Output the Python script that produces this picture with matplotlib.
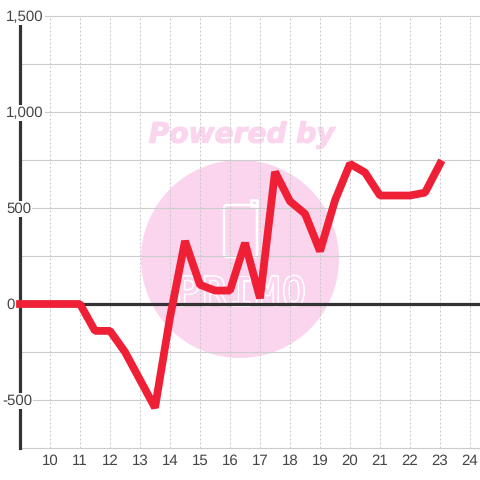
import matplotlib
matplotlib.use('Agg')
import matplotlib.pyplot as plt
import matplotlib.patheffects as pe
from matplotlib.patches import Circle, FancyBboxPatch, Rectangle

hours = [9, 9.5, 10, 10.5, 11, 11.5, 12, 12.5, 13, 13.5, 14, 14.5, 15, 15.5, 16, 16.5,
         17, 17.5, 18, 18.5, 19, 19.5, 20, 20.5, 21, 21.5, 22, 22.5, 23]
values = [0, 0, 0, 0, 0, -140, -140, -250, -395, -540, -70, 328, 100, 70, 70, 318,
          30, 688, 535, 470, 275, 540, 730, 685, 565, 565, 565, 580, 730]
x_ticks = list(range(10, 25))
y_major = [-500, 0, 500, 1000, 1500]
y_labels = ['-500', '0', '500', '1,000', '1,500']
y_minor = [-750, -250, 250, 750, 1250]
logo_letters = ['P', 'R', 'I', 'M', 'O']

plt.rcParams['font.family'] = ['Liberation Sans', 'DejaVu Sans']
plt.rcParams['text.hinting'] = 'no_hinting'
plt.rcParams['text.hinting_factor'] = 1
W = 480
fig = plt.figure(figsize=(4.8, 4.8), dpi=100)
ax = fig.add_axes([20/W, 32/W, 460/W, 432/W])
ax.set_xlim(9, 24.333)
ax.set_ylim(-750, 1500)
ax.patch.set_alpha(0)
pink = '#fbd5ee'


def fx(p):
    return p / W


def fy(p):
    return 1 - p / W


# watermark behind the axes
fig.add_artist(Circle((fx(240), fy(259)), 99 / W, transform=fig.transFigure, fc=pink, ec='none', zorder=-5))
fig.text(fx(241.5), fy(135), 'Powered by', family='DejaVu Sans', fontsize=20.2, fontweight='bold',
         fontstyle='italic', color=pink, ha='center', va='center', zorder=-5,
         path_effects=[pe.withStroke(linewidth=0.8, foreground=pink)])
fig.add_artist(FancyBboxPatch((fx(224), fy(257)), 33 / W, 52 / W, boxstyle='round,pad=0,rounding_size=0.006',
                              transform=fig.transFigure, fc='none', ec='white', lw=1.8, zorder=-4))
fig.add_artist(Rectangle((fx(251), fy(206)), 6 / W, 6 / W, transform=fig.transFigure, fc='none', ec='white',
                         lw=1.8, zorder=-4))
for i, letter in enumerate(logo_letters):
    fig.text(fx(188 + i * 26.5), fy(305), letter, family='DejaVu Sans Mono', fontsize=28, color=pink,
             ha='center', va='baseline', zorder=-4,
             path_effects=[pe.withStroke(linewidth=2.2, foreground='white')])

for v in y_major + y_minor:
    if v != 0:
        ax.axhline(v, color='#cccccc', lw=0.8, zorder=1, clip_on=False)
for x in x_ticks:
    ax.axvline(x, color='#c8c8c8', lw=0.72, ls=(0, (2, 2)), zorder=1)
ax.axhline(0, color='#333333', lw=2.3, zorder=2)
for s in ['top', 'right', 'bottom']:
    ax.spines[s].set_visible(False)
ax.spines['left'].set_color('#333333')
ax.spines['left'].set_linewidth(2.3)
ax.spines['left'].set_zorder(2)

ax.plot(hours, values, color='#ef2036', lw=5.6, solid_joinstyle='bevel', solid_capstyle='projecting', zorder=3,
        clip_on=False)

ax.set_xticks(x_ticks)
ax.set_xticklabels([str(x) for x in x_ticks])
ax.tick_params(axis='x', length=0, pad=4.5, labelsize=11, labelcolor='#444444')
ax.set_yticks([])
for v, lab in zip(y_major, y_labels):
    ax.annotate(lab, xy=(0, v), xycoords=('axes fraction', 'data'),
                xytext=(-14 / 100 * 72 if v >= 0 else -18 / 100 * 72, -0.7),
                textcoords='offset points', ha='left', va='center', fontsize=11, color='#444444', zorder=5,
                bbox=dict(fc='white', ec='none', pad=1.0), annotation_clip=False)

fig.savefig('out.png', dpi=100, facecolor='white')
